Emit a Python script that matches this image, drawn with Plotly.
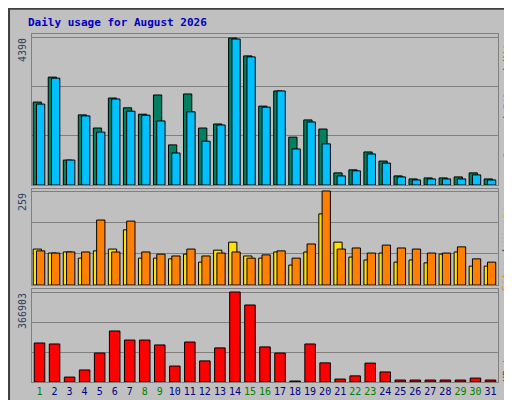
import plotly.graph_objects as go

days = list(range(1, 32))
hits = [2460,3200,740,2080,1690,2580,2290,2100,2670,1190,2700,1690,1810,4360,3830,2340,2790,1420,1930,1660,360,450,980,710,270,180,210,210,240,360,180]
files = [2400,3170,740,2050,1570,2550,2190,2070,1900,950,2170,1300,1780,4330,3800,2310,2790,1070,1870,1220,270,420,920,650,240,150,180,180,180,300,150]
visits = [99,88,91,74,94,99,152,74,74,72,85,63,96,118,80,74,91,55,91,196,118,77,69,88,63,69,61,85,91,52,52]
sites = [94,88,91,91,179,91,176,91,85,80,99,80,88,91,74,83,94,74,113,259,99,102,88,110,102,99,88,88,105,72,63]
kbytes = [159000,155000,20000,49000,118000,208000,171000,171000,151000,65000,163000,86000,139000,366903,314000,143000,118000,4000,155000,78000,12000,25000,77000,41000,8000,8000,8000,8000,8000,16000,8000]
green_days = {1,8,9,15,16,22,23,29,30}

W, H = 512, 400
def py(p): return 1 - p / H
x0, x1 = 24 / W, 490 / W

fig = go.Figure()
line = dict(color="black", width=1)
fig.add_bar(x=days, y=hits, marker=dict(color="#008060", line=line), width=0.55, offset=-0.42, xaxis="x", yaxis="y")
fig.add_bar(x=days, y=files, marker=dict(color="#00C0FF", line=line), width=0.55, offset=-0.2, xaxis="x", yaxis="y")
fig.add_bar(x=days, y=visits, marker=dict(color="#FFE000", line=line), width=0.55, offset=-0.42, xaxis="x2", yaxis="y2")
fig.add_bar(x=days, y=sites, marker=dict(color="#FF8000", line=line), width=0.55, offset=-0.2, xaxis="x2", yaxis="y2")
fig.add_bar(x=days, y=kbytes, marker=dict(color="#FF0000", line=line), width=0.7, offset=-0.35, xaxis="x3", yaxis="y3")

grid = dict(showgrid=True, gridcolor="#808080", showticklabels=False, ticks="", zeroline=False,
            showline=True, linecolor="#808080", mirror=True)
xcommon = dict(range=[0.5, 31.5], showgrid=False, zeroline=False, showline=True, linecolor="#808080", mirror=True, domain=[x0, x1])
ticktext = [f"<span style='color:{'#008000' if d in green_days else '#000080'}'>{d}</span>" for d in days]
rl = dict(xref="paper", yref="paper", textangle=-90, xanchor="center", yanchor="top", showarrow=False)
fig.update_layout(
    width=W, height=H, margin=dict(l=0, r=0, t=0, b=0),
    paper_bgcolor="#C0C0C0", plot_bgcolor="#C0C0C0", barmode="overlay", showlegend=False,
    font=dict(family="DejaVu Sans Mono", size=10),
    xaxis=dict(**xcommon, anchor="y", showticklabels=False),
    xaxis2=dict(**xcommon, anchor="y2", showticklabels=False),
    xaxis3=dict(**xcommon, anchor="y3", tickmode="array", tickvals=days, ticktext=ticktext, ticks=""),
    yaxis=dict(**grid, domain=[py(177), py(26)], range=[0, 4390 * 151 / 148], tickvals=[1463, 2927, 4390]),
    yaxis2=dict(**grid, domain=[py(277), py(181)], range=[0, 259 * 96 / 94], tickvals=[86, 173, 259]),
    yaxis3=dict(**grid, domain=[py(374), py(281)], range=[0, 366903 * 93 / 90], tickvals=[122301, 244602, 366903]),
    shapes=[dict(type="rect", xref="paper", yref="paper", x0=0.002, y0=0.002, x1=0.998, y1=0.998,
                 line=dict(color="#404040", width=2))],
    annotations=[
        dict(text="<b>Daily usage for August 2026</b>", x=18 / W, y=py(6), xref="paper", yref="paper",
             xanchor="left", yanchor="top", showarrow=False, font=dict(color="#0000C0", size=11)),
        dict(text="4390", x=14 / W, y=py(28), **rl),
        dict(text="259", x=14 / W, y=py(183), **rl),
        dict(text="366903", x=14 / W, y=py(283), **rl),
        dict(text="<span style='color:#00C0FF'>Pages</span> / <span style='color:#00C0FF'>Files</span> / <span style='color:#008060'>Hits</span>",
             x=499 / W, y=py(28), **rl),
        dict(text="<span style='color:#FF8000'>Sites</span> / <span style='color:#E0C000'>Visits</span>",
             x=499 / W, y=py(197), **rl),
        dict(text="<span style='color:#FF0000'>KBytes</span>",
             x=499 / W, y=py(336), **rl),
    ],
)
fig.write_html("out.html")
